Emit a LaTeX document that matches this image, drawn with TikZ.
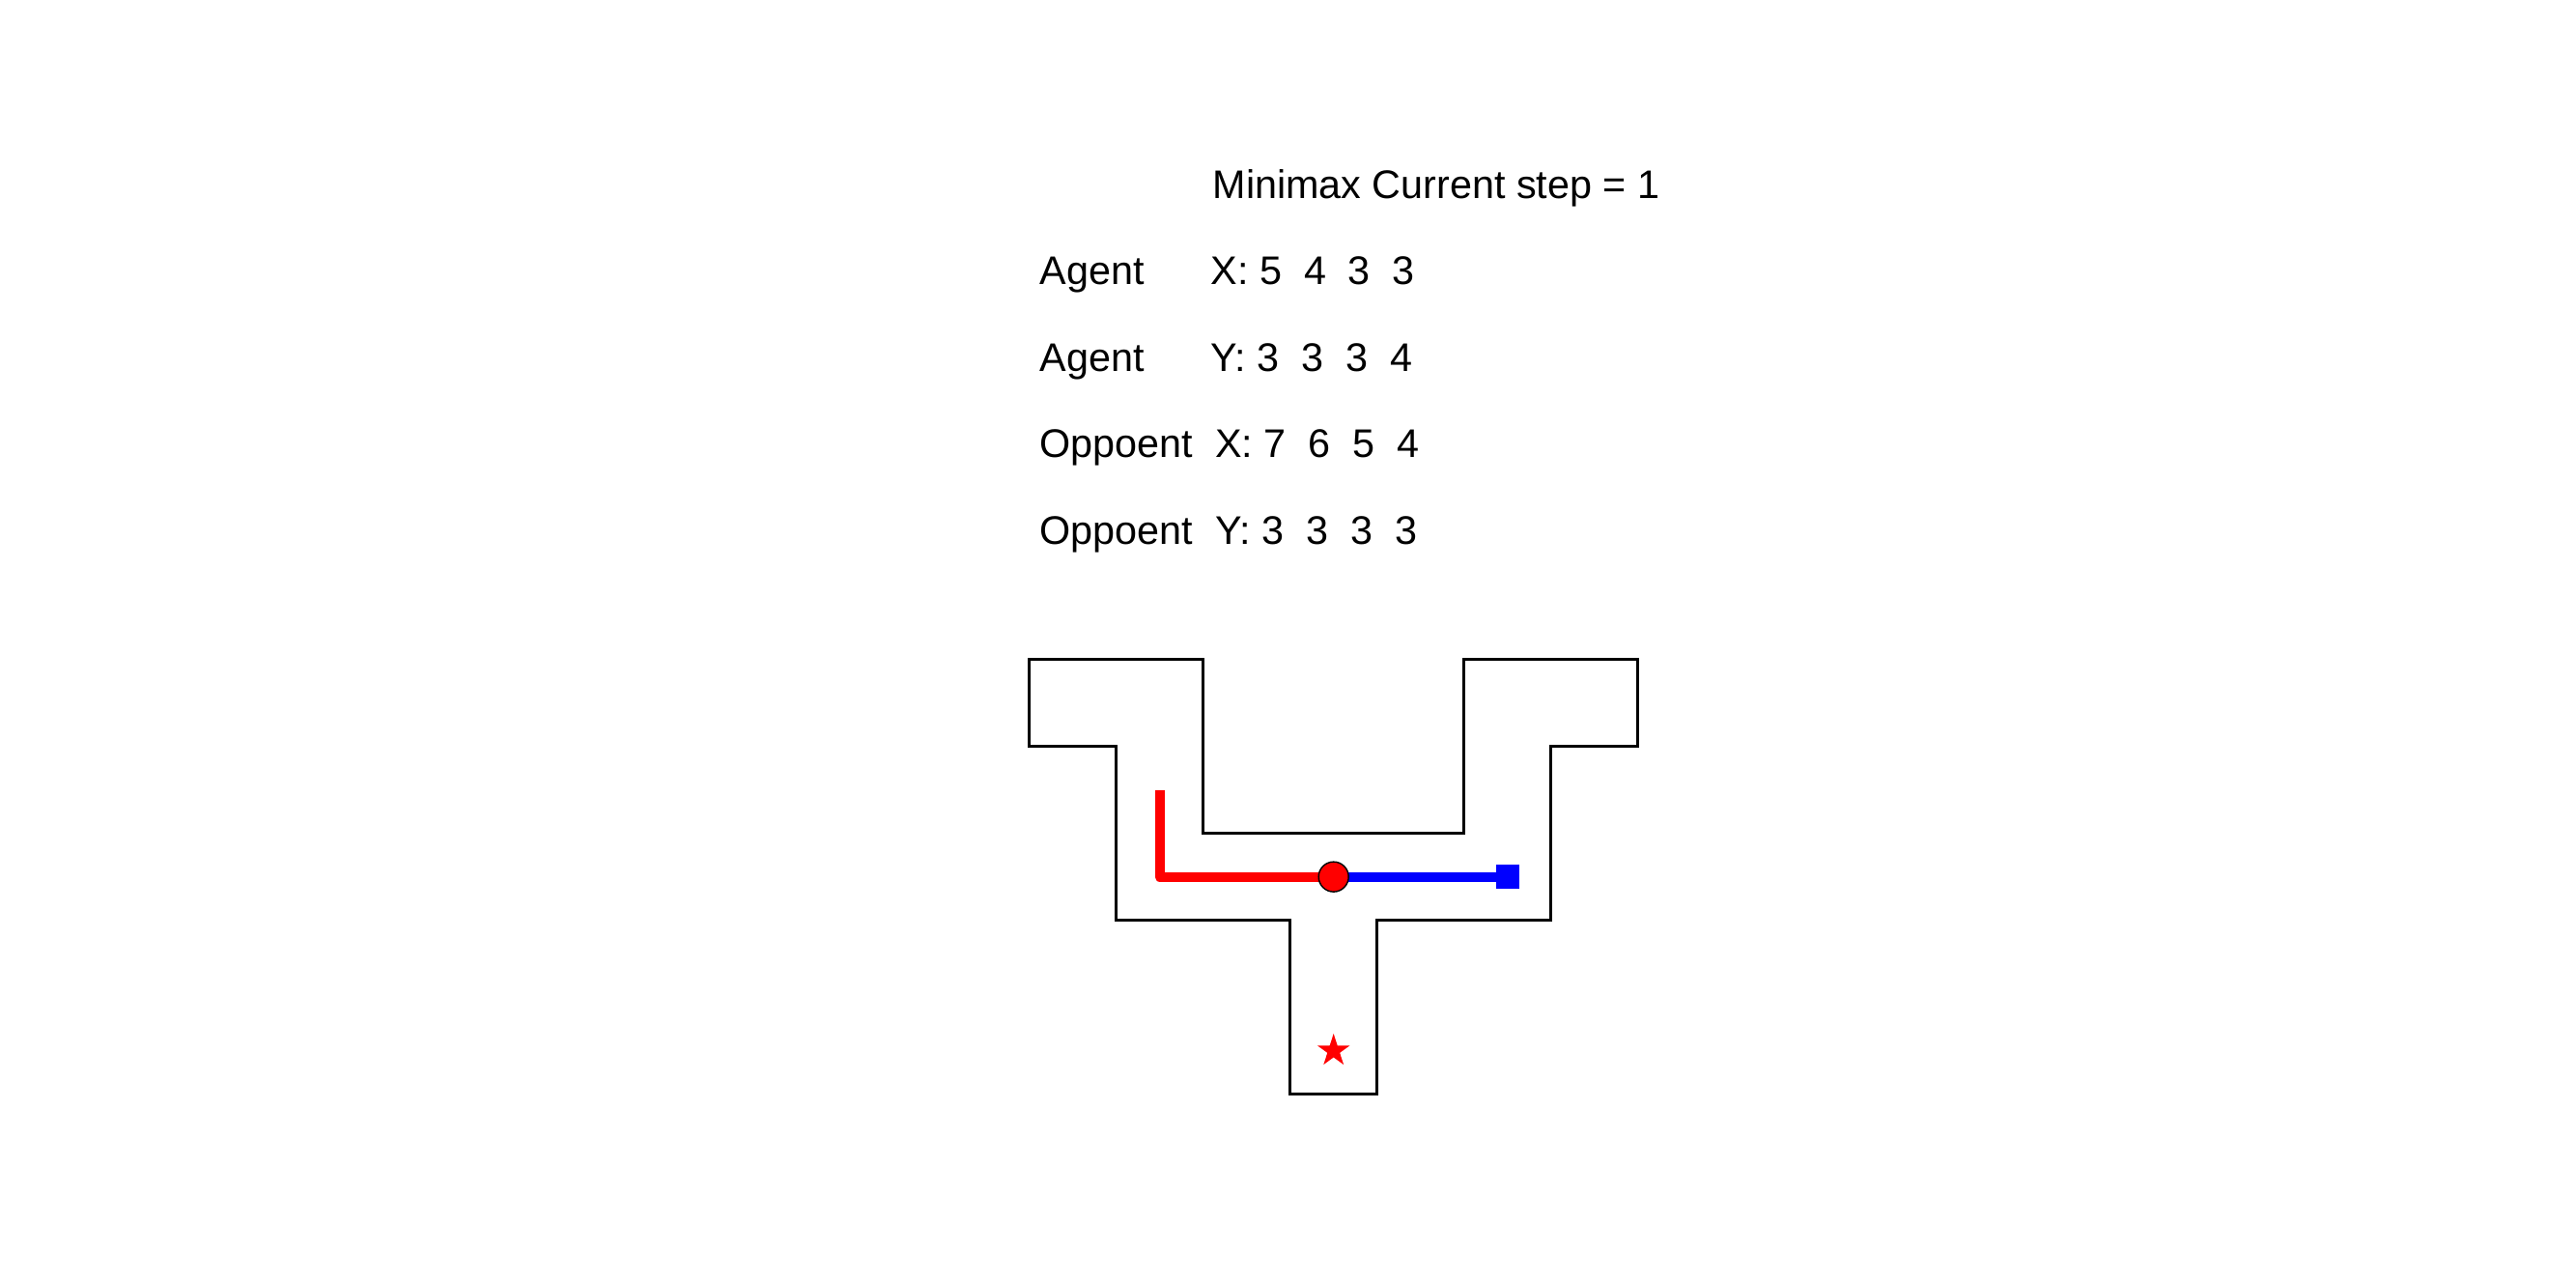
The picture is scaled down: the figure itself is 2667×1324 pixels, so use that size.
\documentclass[tikz,border=0pt]{standalone}
\usepackage{fontspec}
\setmainfont{Liberation Sans}
\usetikzlibrary{shapes.geometric}

\begin{document}
\begin{tikzpicture}[
  x=0.01cm, y=-0.01cm,
  font=\fontsize{11.75}{14}\selectfont,
  lbl/.style={anchor=base west, inner sep=0pt},
  wall/.style={draw=black, line width=0.8pt, line join=miter},
  agentpath/.style={draw=red, line width=2.85pt, line join=round},
  opppath/.style={draw=blue, line width=2.85pt},
  agentdot/.style={circle, draw=black, line width=0.4pt, fill=red,
                   minimum size=0.31cm, inner sep=0pt},
  oppsq/.style={rectangle, fill=blue, minimum size=0.245cm, inner sep=0pt},
  goal/.style={star, star points=5, star point ratio=2.618, fill=red,
               minimum size=0.354cm, inner sep=0pt}]

  \useasboundingbox (0,0) rectangle (2667,1324);

  % status text
  \node[lbl] (title) at (1255,205) {Minimax Current step = 1};
  \node[lbl] (ax) at (1076,294) {Agent\ \ \ \ \ \ X: 5\ \ 4\ \ 3\ \ 3};
  \node[lbl] (ay) at (1076,384) {Agent\ \ \ \ \ \ Y: 3\ \ 3\ \ 3\ \ 4};
  \node[lbl] (ox) at (1076,473) {Oppoent\ \ X: 7\ \ 6\ \ 5\ \ 4};
  \node[lbl] (oy) at (1076,563) {Oppoent\ \ Y: 3\ \ 3\ \ 3\ \ 3};

  % maze, in grid cells
  \begin{scope}[shift={(1065.5,682.5)}, x=0.900cm, y=-0.90cm]
    \draw[wall] (0,0) -- (2,0) -- (2,2) -- (5,2) -- (5,0) -- (7,0) -- (7,1)
      -- (6,1) -- (6,3) -- (4,3) -- (4,5) -- (3,5) -- (3,3) -- (1,3)
      -- (1,1) -- (0,1) -- cycle;

    \coordinate (astart) at (1.5,1.5);
    \coordinate (apos) at (3.5,2.5);
    \coordinate (opos) at (5.5,2.5);

    \draw[agentpath] (astart) |- (apos);
    \draw[opppath] (apos) -- (opos);

    \node[oppsq] (opp) at (opos) {};
    \node[agentdot] (agent) at (apos) {};
    \node[goal] (target) at (3.5,4.5) {};
  \end{scope}
\end{tikzpicture}
\end{document}
